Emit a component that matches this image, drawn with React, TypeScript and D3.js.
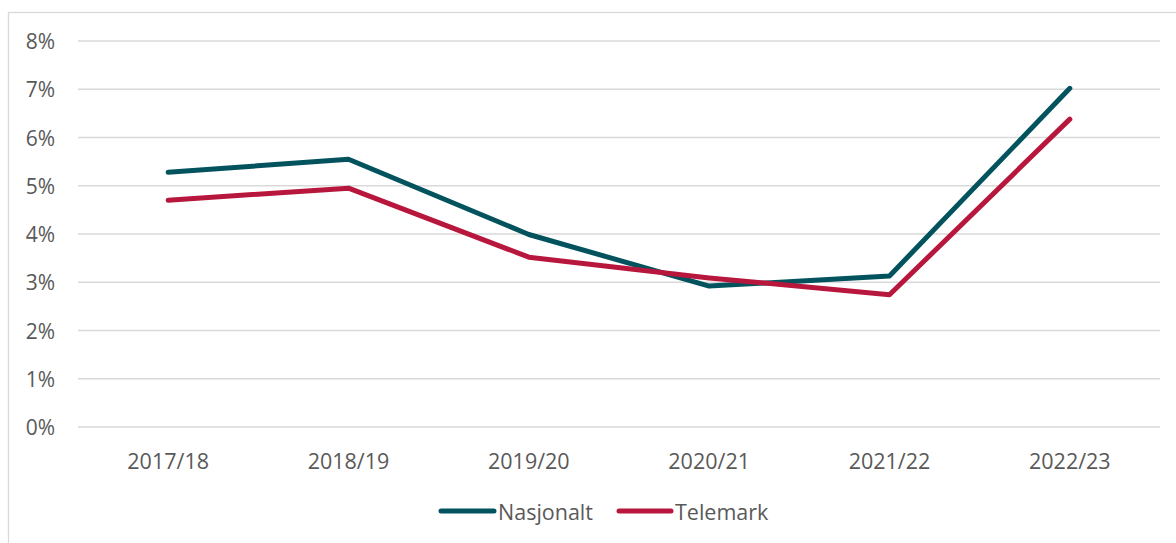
import React from 'react';
import * as d3 from 'd3';

const years = ['2017/18', '2018/19', '2019/20', '2020/21', '2021/22', '2022/23'];
const nasjonalt = [0.0528, 0.0555, 0.0399, 0.0292, 0.0313, 0.0702];
const telemark = [0.047, 0.0495, 0.0352, 0.0309, 0.0274, 0.0638];
const yTicks = [0, 0.01, 0.02, 0.03, 0.04, 0.05, 0.06, 0.07, 0.08];

const series = [
  { name: 'Nasjonalt', values: nasjonalt, color: '#02535E' },
  { name: 'Telemark', values: telemark, color: '#B8173D' },
];

const W = 1176;
const H = 543;
const textColor = '#595959';
const font = '"Open Sans", "Liberation Sans", sans-serif';

const App = () => {
  const x = d3.scalePoint<string>().domain(years).range([78, 1160]).padding(0.5);
  const y = d3.scaleLinear().domain([0, 0.08]).range([427, 41]);
  const line = d3
    .line<number>()
    .x((_, i) => x(years[i]) as number)
    .y(d => y(d));

  const legend = [
    { x1: 441, x2: 494, tx: 498 },
    { x1: 619, x2: 671, tx: 675 },
  ];

  return (
    <svg
      width={W}
      height={H}
      style={{ position: 'absolute', left: 0, top: 0, background: '#fff' }}
      fontFamily={font}
    >
      <rect x={8.5} y={12.5} width={W} height={H} fill="#fff" stroke="#d9d9d9" strokeWidth={1.3} />

      {yTicks.map(t => (
        <g key={t}>
          <line x1={78} x2={1160} y1={y(t)} y2={y(t)} stroke="#d9d9d9" strokeWidth={1.4} />
          <text
            x={55}
            y={y(t)}
            textAnchor="end"
            dominantBaseline="central"
            fontSize={21}
            fill={textColor}
          >
            {d3.format('.0%')(t)}
          </text>
        </g>
      ))}

      {years.map(yr => (
        <text
          key={yr}
          x={x(yr)}
          y={460}
          textAnchor="middle"
          dominantBaseline="central"
          fontSize={21.5}
          fill={textColor}
        >
          {yr}
        </text>
      ))}

      {series.map(s => (
        <path
          key={s.name}
          d={line(s.values) || ''}
          fill="none"
          stroke={s.color}
          strokeWidth={5}
          strokeLinecap="round"
          strokeLinejoin="round"
        />
      ))}

      {series.map((s, i) => (
        <g key={s.name}>
          <line
            x1={legend[i].x1}
            x2={legend[i].x2}
            y1={511}
            y2={511}
            stroke={s.color}
            strokeWidth={5}
            strokeLinecap="round"
          />
          <text
            x={legend[i].tx}
            y={511}
            dominantBaseline="central"
            fontSize={21.5}
            fill={textColor}
          >
            {s.name}
          </text>
        </g>
      ))}
    </svg>
  );
};

export default App;
